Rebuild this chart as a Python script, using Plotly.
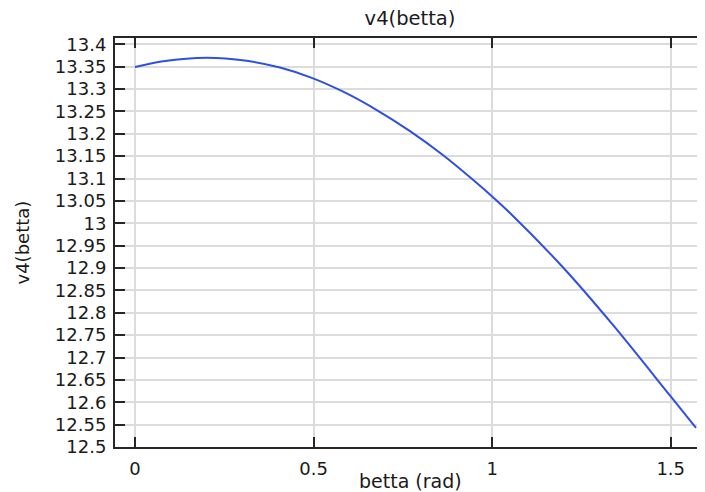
import plotly.graph_objects as go

# values
betta = [0.0, 0.079, 0.2, 0.313, 0.406, 0.495, 0.583, 0.677, 0.770,
         0.863, 0.957, 1.0, 1.05, 1.2, 1.34, 1.5, 1.5708]
v4 = [13.349, 13.362, 13.370, 13.363, 13.348, 13.325, 13.294, 13.253, 13.206,
      13.152, 13.090, 13.060, 13.023, 12.900, 12.771, 12.613, 12.543]

x_ticks = [0, 0.5, 1, 1.5]
x_labels = ["0", "0.5", "1", "1.5"]
y_ticks = [12.5, 12.55, 12.6, 12.65, 12.7, 12.75, 12.8, 12.85, 12.9, 12.95,
           13.0, 13.05, 13.1, 13.15, 13.2, 13.25, 13.3, 13.35, 13.4]
y_labels = ["12.5", "12.55", "12.6", "12.65", "12.7", "12.75", "12.8", "12.85",
            "12.9", "12.95", "13", "13.05", "13.1", "13.15", "13.2", "13.25",
            "13.3", "13.35", "13.4"]

FONT = "DejaVu Sans"
TEXT_COLOR = "#1a1a1a"
AXIS_COLOR = "#262626"
GRID_COLOR = "#dcdcdc"

# the page body has an 8px margin, so the figure is 8px smaller on each side
W, H = 697, 484
M_L, M_T, M_B = 107, 30, 45

fig = go.Figure()
fig.add_trace(go.Scatter(
    x=betta,
    y=v4,
    mode="lines",
    line=dict(color="#2f4fe0", width=2, shape="spline", smoothing=0.8),
    showlegend=False,
))

# axis titles as annotations so they sit where the reference has them
fig.add_annotation(text="betta (rad)", xref="paper", yref="paper",
                   x=0.5, y=0, xanchor="center", yanchor="middle",
                   yshift=-34, showarrow=False, borderpad=0,
                   font=dict(family=FONT, size=19, color=TEXT_COLOR))
fig.add_annotation(text="v4(betta)", xref="paper", yref="paper",
                   x=0, y=0.5, xanchor="center", yanchor="middle",
                   xshift=-93, textangle=-90, showarrow=False,
                   font=dict(family=FONT, size=18, color=TEXT_COLOR))

fig.update_layout(
    width=W,
    height=H,
    margin=dict(l=M_L, r=0, t=M_T, b=M_B, autoexpand=False),
    paper_bgcolor="white",
    plot_bgcolor="white",
    font=dict(family=FONT, size=18, color=TEXT_COLOR),
    title=dict(text="v4(betta)", x=0.5, xref="paper", xanchor="center",
               y=1 - 10 / H, yref="container", yanchor="middle",
               font=dict(family=FONT, size=19.5, color=TEXT_COLOR)),
    xaxis=dict(
        range=[-0.056, 1.596],
        tickvals=x_ticks,
        ticktext=x_labels,
        ticks="inside",
        ticklen=10,
        tickwidth=2,
        tickcolor=AXIS_COLOR,
        ticklabelstandoff=4,
        showline=True,
        linecolor=AXIS_COLOR,
        linewidth=2,
        mirror="ticks",
        showgrid=True,
        gridcolor=GRID_COLOR,
        gridwidth=1.5,
        zeroline=False,
        automargin=False,
    ),
    yaxis=dict(
        range=[12.5, 13.414],
        tickvals=y_ticks,
        ticktext=y_labels,
        ticks="inside",
        ticklen=10,
        tickwidth=2,
        tickcolor=AXIS_COLOR,
        ticklabelstandoff=3,
        showline=True,
        linecolor=AXIS_COLOR,
        linewidth=2,
        mirror=False,
        showgrid=True,
        gridcolor=GRID_COLOR,
        gridwidth=1.5,
        zeroline=False,
        automargin=False,
    ),
)

fig.write_html("out.html")
